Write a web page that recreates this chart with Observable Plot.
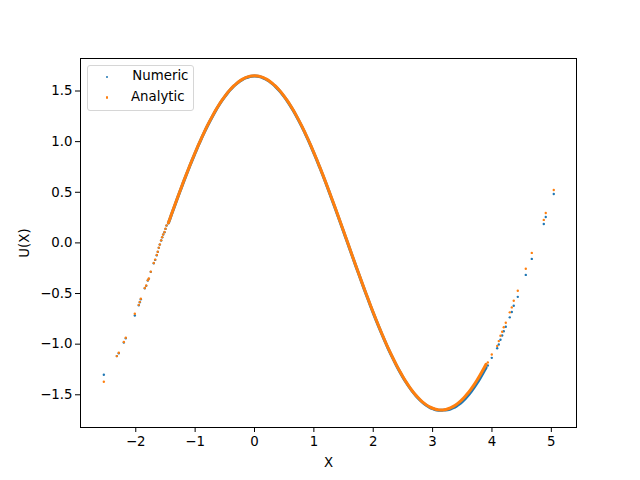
<!DOCTYPE html>
<html>
<head>
<meta charset="utf-8">
<script src="https://cdn.jsdelivr.net/npm/d3@7"></script>
<script src="https://cdn.jsdelivr.net/npm/@observablehq/plot@0.6"></script>
<style>
  body { margin: 0; background: #fff; }
  #wrap { position: relative; width: 640px; height: 480px; font-family: "DejaVu Sans", sans-serif; }
  #legend { position: absolute; left: 87px; top: 65px; width: 107px; height: 46px; box-sizing: border-box;
            border: 1px solid #d6d6d6; border-radius: 3px; background: rgba(255,255,255,0.8); }
  .li { position: absolute; font-size: 13.33px; color: #000; line-height: 1; }
  .mk { position: absolute; width: 2.4px; height: 2.4px; border-radius: 50%; }
</style>
</head>
<body>
<div id="wrap"></div>
<script>
// Dense part of the curve (x, Analytic U, Numeric U)
const denseX = [-1.45,-1.40,-1.35,-1.30,-1.25,-1.20,-1.15,-1.10,-1.05,-1.00,-0.95,-0.90,-0.85,-0.80,-0.75,-0.70,-0.65,-0.60,-0.55,-0.50,-0.45,-0.40,-0.35,-0.30,-0.25,-0.20,-0.15,-0.10,-0.05,0.00,
  0.05,0.10,0.15,0.20,0.25,0.30,0.35,0.40,0.45,0.50,0.55,0.60,0.65,0.70,0.75,0.80,0.85,0.90,0.95,1.00,
  1.05,1.10,1.15,1.20,1.25,1.30,1.35,1.40,1.45,1.50,1.55,1.60,1.65,1.70,1.75,1.80,1.85,1.90,1.95,2.00,
  2.05,2.10,2.15,2.20,2.25,2.30,2.35,2.40,2.45,2.50,2.55,2.60,2.65,2.70,2.75,2.80,2.85,2.90,2.95,3.00,
  3.05,3.10,3.15,3.20,3.25,3.30,3.35,3.40,3.45,3.50,3.55,3.60,3.65,3.70,3.75,3.80,3.85,3.90];
const denseAnalytic = [0.199,0.280,0.361,0.441,0.520,0.598,0.674,0.748,0.821,0.891,0.960,1.026,1.089,1.150,1.207,1.262,1.314,1.362,1.407,1.448,1.486,1.520,1.550,1.576,1.599,1.617,1.632,1.642,1.648,1.650,
  1.648,1.642,1.632,1.617,1.599,1.576,1.550,1.520,1.486,1.448,1.407,1.362,1.314,1.262,1.207,1.150,1.089,1.026,0.960,0.891,
  0.821,0.748,0.674,0.598,0.520,0.441,0.361,0.280,0.199,0.117,0.034,-0.048,-0.131,-0.213,-0.294,-0.375,-0.455,-0.533,-0.611,-0.687,
  -0.761,-0.833,-0.903,-0.971,-1.037,-1.099,-1.159,-1.217,-1.271,-1.322,-1.370,-1.414,-1.455,-1.492,-1.525,-1.555,-1.580,-1.602,-1.620,-1.633,
  -1.643,-1.649,-1.650,-1.647,-1.640,-1.629,-1.614,-1.595,-1.572,-1.545,-1.514,-1.480,-1.441,-1.399,-1.354,-1.305,-1.253,-1.198];
const denseNumeric = [0.196,0.277,0.358,0.438,0.517,0.595,0.671,0.745,0.818,0.888,0.957,1.023,1.086,1.147,1.204,1.259,1.311,1.359,1.404,1.445,1.483,1.517,1.547,1.573,1.596,1.614,1.629,1.639,1.645,1.647,
  1.645,1.639,1.628,1.613,1.595,1.572,1.546,1.516,1.482,1.444,1.403,1.358,1.310,1.258,1.203,1.146,1.085,1.022,0.956,0.887,
  0.817,0.744,0.670,0.594,0.516,0.437,0.357,0.276,0.195,0.113,0.030,-0.052,-0.135,-0.217,-0.298,-0.379,-0.459,-0.537,-0.615,-0.691,
  -0.765,-0.837,-0.907,-0.975,-1.041,-1.103,-1.163,-1.221,-1.275,-1.326,-1.374,-1.418,-1.459,-1.496,-1.529,-1.559,-1.584,-1.606,-1.624,-1.637,
  -1.647,-1.652,-1.653,-1.650,-1.648,-1.640,-1.628,-1.612,-1.592,-1.567,-1.538,-1.505,-1.468,-1.428,-1.384,-1.336,-1.285,-1.232];

// Sparse points on the left
const leftX = [-2.538,-2.319,-2.286,-2.201,-2.168,-2.016,-1.949,-1.932,-1.915,-1.848,-1.824,-1.797,-1.780,-1.747,-1.697,-1.673,-1.646,-1.629,-1.612,-1.595,-1.572,-1.555,-1.538,-1.516,-1.499,-1.482];
const leftNumeric = [-1.302,-1.118,-1.090,-0.983,-0.941,-0.717,-0.615,-0.586,-0.556,-0.448,-0.424,-0.372,-0.355,-0.286,-0.201,-0.168,-0.122,-0.089,-0.049,-0.017,0.023,0.055,0.082,0.105,0.138,0.171];
const leftAnalytic = [-1.371,-1.118,-1.085,-0.978,-0.936,-0.700,-0.612,-0.582,-0.552,-0.445,-0.420,-0.368,-0.352,-0.284,-0.198,-0.165,-0.120,-0.087,-0.047,-0.015,0.025,0.057,0.084,0.107,0.140,0.173];

// Sparse points on the right
const rightX = [3.930,3.997,4.088,4.115,4.143,4.172,4.199,4.233,4.300,4.334,4.367,4.435,4.570,4.671,4.873,4.906,5.041];
const rightAnalytic = [-1.180,-1.102,-1.017,-0.970,-0.917,-0.878,-0.833,-0.789,-0.686,-0.637,-0.572,-0.473,-0.256,-0.099,0.227,0.296,0.523];
const rightNumeric = [-1.210,-1.135,-1.040,-1.003,-0.957,-0.914,-0.872,-0.828,-0.735,-0.682,-0.621,-0.533,-0.316,-0.158,0.187,0.256,0.483];

const xTicks = [-2,-1,0,1,2,3,4,5];
const yTicks = [-1.5,-1.0,-0.5,0.0,0.5,1.0,1.5];
const seriesNames = ["Numeric","Analytic"];
const seriesColors = ["#1f77b4","#ff7f0e"];

const dense = denseX.map((x,i) => ({x, num: denseNumeric[i], ana: denseAnalytic[i]}));
const sparse = [
  ...leftX.map((x,i) => ({x, num: leftNumeric[i], ana: leftAnalytic[i]})),
  ...rightX.map((x,i) => ({x, num: rightNumeric[i], ana: rightAnalytic[i]}))
];

const fmt = d3.format(".1f");
const chart = Plot.plot({
  width: 640, height: 480,
  marginLeft: 80, marginRight: 64, marginTop: 58, marginBottom: 53,
  style: {fontFamily: "DejaVu Sans, sans-serif", fontSize: "13.33px", color: "#000", background: "#fff"},
  x: {domain: [-2.931, 5.424]},
  y: {domain: [-1.823, 1.821]},
  marks: [
    Plot.line(dense, {x: "x", y: "num", stroke: seriesColors[0], strokeWidth: 3, curve: "catmull-rom"}),
    Plot.dot(sparse, {x: "x", y: "num", r: 1.2, fill: seriesColors[0], stroke: "none"}),
    Plot.line(dense, {x: "x", y: "ana", stroke: seriesColors[1], strokeWidth: 3, curve: "catmull-rom"}),
    Plot.dot(sparse, {x: "x", y: "ana", r: 1.2, fill: seriesColors[1], stroke: "none"}),
    Plot.frame({stroke: "#000", strokeWidth: 1}),
    Plot.axisX({ticks: xTicks, tickSize: 5, tickPadding: 4, label: null, tickFormat: d3.format("d")}),
    Plot.axisY({ticks: yTicks, tickSize: 5, tickPadding: 3, label: null, tickFormat: fmt}),
    Plot.text(["X"], {frameAnchor: "bottom", dy: 35, lineAnchor: "middle", textAnchor: "middle", fill: "#000"}),
    Plot.text(["U(X)"], {frameAnchor: "left", dx: -56, rotate: -90, textAnchor: "middle", lineAnchor: "middle", fill: "#000"})
  ]
});

const wrap = document.getElementById("wrap");
wrap.appendChild(chart);

// Legend
const legend = document.createElement("div");
legend.id = "legend";
seriesNames.forEach((name, i) => {
  const mk = document.createElement("div");
  mk.className = "mk";
  mk.style.background = seriesColors[i];
  mk.style.left = (19.7 - 1.2 - 1) + "px";
  mk.style.top = (12 + i * 20.5 - 1.2 - 1) + "px";
  legend.appendChild(mk);
  const t = document.createElement("div");
  t.className = "li";
  t.textContent = name;
  t.style.left = (i === 0 ? 44.3 : 43) + "px";
  t.style.top = (12 + i * 20.5 - 8 - 1) + "px";
  legend.appendChild(t);
});
wrap.appendChild(legend);
</script>
</body>
</html>
